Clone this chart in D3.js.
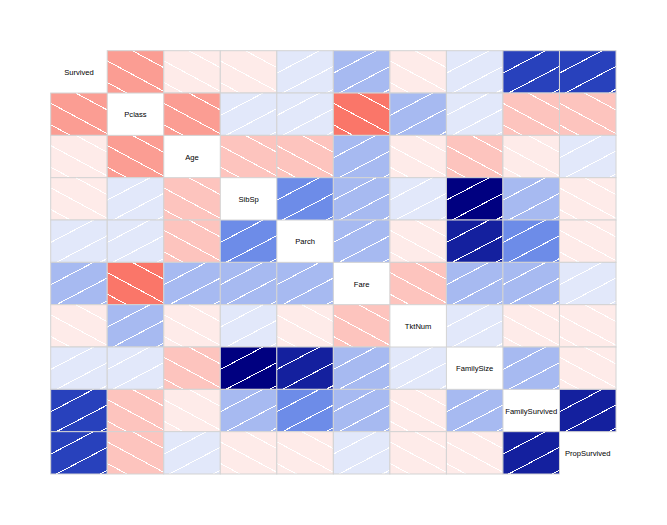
<!DOCTYPE html>
<html>
<head>
<meta charset="utf-8">
<script src="https://cdn.jsdelivr.net/npm/d3@7"></script>
<style>
  body { margin: 0; background: #fff; }
  text { font-family: "Liberation Sans", Arial, sans-serif; }
</style>
</head>
<body>
<script>
const vars = ["Survived", "Pclass", "Age", "SibSp", "Parch", "Fare",
              "TktNum", "FamilySize", "FamilySurvived", "PropSurvived"];

// correlation rows
const rSurvived       = [ 1.00, -0.34, -0.07, -0.04,  0.08,  0.26, -0.05,  0.02,  0.65,  0.62];
const rPclass         = [-0.34,  1.00, -0.37,  0.08,  0.02, -0.55,  0.20,  0.07, -0.25, -0.22];
const rAge            = [-0.07, -0.37,  1.00, -0.24, -0.18,  0.17, -0.05, -0.25, -0.08,  0.03];
const rSibSp          = [-0.04,  0.08, -0.24,  1.00,  0.41,  0.16,  0.05,  0.89,  0.20, -0.05];
const rParch          = [ 0.08,  0.02, -0.18,  0.41,  1.00,  0.22, -0.04,  0.78,  0.33, -0.03];
const rFare           = [ 0.26, -0.55,  0.17,  0.16,  0.22,  1.00, -0.17,  0.22,  0.25,  0.09];
const rTktNum         = [-0.05,  0.20, -0.05,  0.05, -0.04, -0.17,  1.00,  0.01, -0.06, -0.04];
const rFamilySize     = [ 0.02,  0.07, -0.25,  0.89,  0.78,  0.22,  0.01,  1.00,  0.22, -0.04];
const rFamilySurvived = [ 0.65, -0.25, -0.08,  0.20,  0.33,  0.25, -0.06,  0.22,  1.00,  0.80];
const rPropSurvived   = [ 0.62, -0.22,  0.03, -0.05, -0.03,  0.09, -0.04, -0.04,  0.80,  1.00];

const corr = [rSurvived, rPclass, rAge, rSibSp, rParch, rFare,
              rTktNum, rFamilySize, rFamilySurvived, rPropSurvived];

const width = 667;
const height = 525;

const svg = d3.select("body").append("svg")
    .attr("width", width)
    .attr("height", height);

const x = d3.scaleBand().domain(d3.range(vars.length)).range([50.7, 616]);
const y = d3.scaleBand().domain(d3.range(vars.length)).range([50.7, 474]);

// corrgram style palette, 14 bins
const ramp = d3.piecewise(d3.interpolateRgb, ["red", "salmon", "white", "royalblue", "navy"]);
const ncol = 14;
const pal = d3.range(ncol).map(i => ramp(i / (ncol - 1)));
const color = d3.scaleQuantize().domain([-1, 1]).range(pal);

const cells = [];
corr.forEach((row, i) => row.forEach((r, j) => cells.push({ i, j, r })));

// clip line v = a + b*u to unit square, return [u0,v0,u1,v1]
function clipLine(a, b) {
    let u0 = 0, u1 = 1;
    const ua = (0 - a) / b, ub = (1 - a) / b;
    u0 = Math.max(u0, Math.min(ua, ub));
    u1 = Math.min(u1, Math.max(ua, ub));
    if (u1 <= u0) return null;
    return [u0, a + b * u0, u1, a + b * u1];
}

const off = svg.append("g");

const g = off.selectAll(".cell")
    .data(cells.filter(d => d.i !== d.j))
    .enter()
    .append("g")
    .attr("class", "cell")
    .attr("transform", d => `translate(${x(d.j)}, ${y(d.i)})`);

g.append("rect")
    .attr("width", x.bandwidth())
    .attr("height", y.bandwidth())
    .attr("fill", d => color(d.r));

g.each(function(d) {
    const w = x.bandwidth(), h = y.bandwidth();
    const segs = d.r > 0
        ? [0.47, -0.07, -0.61].map(a => clipLine(a, 0.7))
        : [1.32, 0.76, 0.25].map(a => clipLine(a, -0.72));
    d3.select(this).selectAll("line")
        .data(segs.filter(s => s))
        .enter()
        .append("line")
        .attr("x1", s => s[0] * w)
        .attr("y1", s => (1 - s[1]) * h)
        .attr("x2", s => s[2] * w)
        .attr("y2", s => (1 - s[3]) * h)
        .attr("stroke", "#fff")
        .attr("stroke-width", 1)
        .attr("shape-rendering", "crispEdges");
});

g.append("rect")
    .attr("width", x.bandwidth())
    .attr("height", y.bandwidth())
    .attr("fill", "none")
    .attr("stroke", "#d3d3d3")
    .attr("stroke-width", 1);

// diagonal labels
svg.selectAll(".lab")
    .data(vars)
    .enter()
    .append("text")
    .attr("class", "lab")
    .attr("x", (d, i) => x(i) + x.bandwidth() / 2)
    .attr("y", (d, i) => y(i) + y.bandwidth() / 2 + 3)
    .attr("text-anchor", "middle")
    .style("font-size", "7.6px")
    .text(d => d);
</script>
</body>
</html>
